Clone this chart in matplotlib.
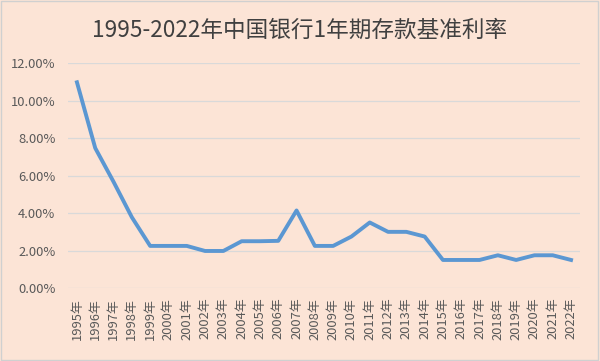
import matplotlib
matplotlib.use('Agg')
import matplotlib.pyplot as plt
from matplotlib.ticker import FuncFormatter

plt.rcParams['font.family'] = ['Noto Sans CJK SC', 'DejaVu Sans']

years = [str(y) + '年' for y in range(1995, 2023)]
rates = [10.98, 7.47, 5.67, 3.78, 2.25, 2.25, 2.25, 1.98, 1.98, 2.50,
         2.50, 2.52, 4.14, 2.25, 2.25, 2.75, 3.50, 3.00, 3.00, 2.75,
         1.50, 1.50, 1.50, 1.75, 1.50, 1.75, 1.75, 1.50]
title = '1995-2022年中国银行1年期存款基准利率'

bg = '#FCE4D6'
fig = plt.figure(figsize=(6, 3.61), dpi=100, facecolor=bg)
ax = fig.add_axes([0.113, 0.202, 0.854, 0.623])
ax.set_facecolor(bg)

x = list(range(len(years)))
ax.plot(x, rates, color='#5B97D2', lw=2.8, solid_joinstyle='round')

ax.set_xlim(-0.5, len(years) - 0.5)
ax.set_ylim(0, 12)
ax.set_yticks(range(0, 13, 2))
ax.yaxis.set_major_formatter(FuncFormatter(lambda v, p: f'{v:.2f}%'))
ax.set_xticks(x)
ax.set_xticklabels(years, rotation=90)
ax.tick_params(axis='both', length=0, colors='#595959', labelsize=9.3)
ax.tick_params(axis='y', pad=9)
ax.tick_params(axis='x', pad=7)
ax.grid(axis='y', color='#D9D9D9', lw=0.9)
ax.set_axisbelow(True)
for s in ax.spines.values():
    s.set_visible(False)

fig.text(0.5, 0.915, title, ha='center', va='center', fontsize=16.3, color='#404040')

border = plt.Rectangle((0.002, 0.003), 0.995, 0.994, transform=fig.transFigure,
                       fill=False, edgecolor='#D0D0D0', lw=1)
fig.patches.append(border)

fig.savefig('out.png', dpi=100, facecolor=bg)
